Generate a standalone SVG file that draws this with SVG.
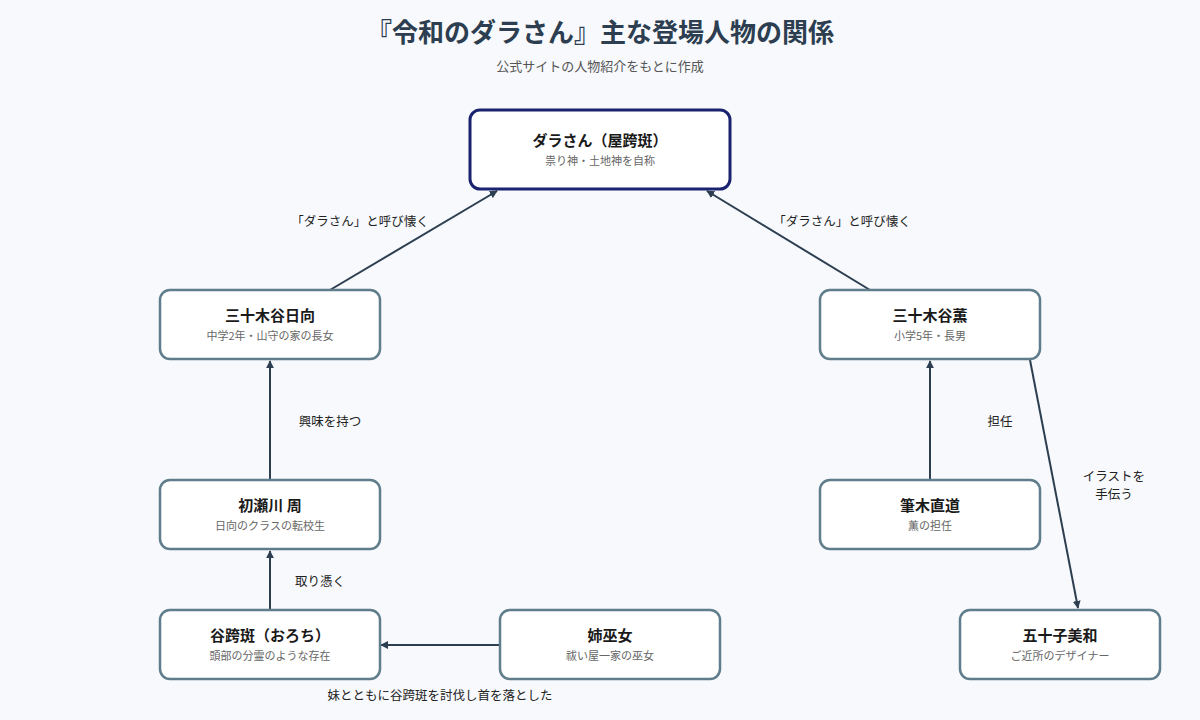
<svg xmlns="http://www.w3.org/2000/svg" width="1200" height="720" viewBox="0 0 1200 720">
<style>
text{font-family:"Noto Sans CJK JP","Noto Sans",sans-serif;text-anchor:middle}
.box{fill:#fff;stroke:#607d8b;stroke-width:2.5}
.main{fill:#fff;stroke:#1a2370;stroke-width:3}
.nm{font-size:15px;font-weight:bold;fill:#1a1a1a}
.sub{font-size:11px;fill:#666}
.lbl{font-size:12.5px;fill:#222}
.e{stroke:#2c3e50;stroke-width:2;fill:none;marker-end:url(#ah)}
</style>
<defs><marker id="ah" viewBox="0 0 10 10" refX="9" refY="5" markerWidth="8" markerHeight="8" markerUnits="userSpaceOnUse" orient="auto"><path d="M0,0L10,5L0,10z" fill="#2c3e50"/></marker></defs>
<rect width="1200" height="720" fill="#f7f9fc"/>
<text x="600" y="42" font-size="26" font-weight="bold" fill="#2c3e50">『令和のダラさん』主な登場人物の関係</text>
<text x="600" y="71" font-size="13" fill="#555">公式サイトの人物紹介をもとに作成</text>
<g id="connectors">
<line class="e" x1="330" y1="290" x2="497" y2="191"/>
<line class="e" x1="870" y1="290" x2="707" y2="191"/>
<line class="e" x1="270" y1="480" x2="270" y2="361"/>
<line class="e" x1="930" y1="480" x2="930" y2="361"/>
<line class="e" x1="270" y1="610" x2="270" y2="551"/>
<line class="e" x1="500" y1="645" x2="381" y2="645"/>
<line class="e" x1="1030" y1="360" x2="1078" y2="608"/>
<text class="lbl" x="360" y="226">「ダラさん」と呼び懐く</text>
<text class="lbl" x="842" y="226">「ダラさん」と呼び懐く</text>
<text class="lbl" x="330" y="426">興味を持つ</text>
<text class="lbl" x="1000" y="426">担任</text>
<text class="lbl" x="1114" y="481">イラストを</text>
<text class="lbl" x="1114" y="499">手伝う</text>
<text class="lbl" x="320" y="586">取り憑く</text>
<text class="lbl" x="440" y="700">妹とともに谷跨斑を討伐し首を落とした</text>
</g>
<g id="dara"><rect class="main" x="470" y="110" width="260" height="79" rx="10"/><text class="nm" x="600" y="146">ダラさん（屋跨斑）</text><text class="sub" x="600" y="165">祟り神・土地神を自称</text></g>
<g id="hinata"><rect class="box" x="160" y="290" width="220" height="69" rx="10"/><text class="nm" x="270" y="321">三十木谷日向</text><text class="sub" x="270" y="340">中学2年・山守の家の長女</text></g>
<g id="kaoru"><rect class="box" x="820" y="290" width="220" height="69" rx="10"/><text class="nm" x="930" y="321">三十木谷薫</text><text class="sub" x="930" y="340">小学5年・長男</text></g>
<g id="hatsuse"><rect class="box" x="160" y="480" width="220" height="69" rx="10"/><text class="nm" x="270" y="511">初瀬川 周</text><text class="sub" x="270" y="530">日向のクラスの転校生</text></g>
<g id="fudeki"><rect class="box" x="820" y="480" width="220" height="69" rx="10"/><text class="nm" x="930" y="511">筆木直道</text><text class="sub" x="930" y="530">薫の担任</text></g>
<g id="orochi"><rect class="box" x="160" y="610" width="220" height="69" rx="10"/><text class="nm" x="270" y="641">谷跨斑（おろち）</text><text class="sub" x="270" y="660">頭部の分霊のような存在</text></g>
<g id="anemiko"><rect class="box" x="500" y="610" width="220" height="69" rx="10"/><text class="nm" x="610" y="641">姉巫女</text><text class="sub" x="610" y="660">祓い屋一家の巫女</text></g>
<g id="isoko"><rect class="box" x="960" y="610" width="200" height="69" rx="10"/><text class="nm" x="1060" y="641">五十子美和</text><text class="sub" x="1060" y="660">ご近所のデザイナー</text></g>
</svg>
